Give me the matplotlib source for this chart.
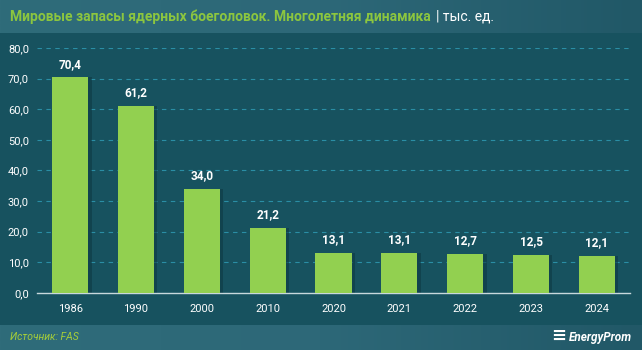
import matplotlib
matplotlib.use("Agg")
import matplotlib.pyplot as plt
import numpy as np
from matplotlib.colors import LinearSegmentedColormap

plt.rcParams['font.family'] = ['Roboto', 'DejaVu Sans']

years = ['1986', '1990', '2000', '2010', '2020', '2021', '2022', '2023', '2024']
stock = [70.4, 61.2, 34.0, 21.2, 13.1, 13.1, 12.7, 12.5, 12.1]
y_ticks = [0, 10, 20, 30, 40, 50, 60, 70, 80]

bg = '#17525f'
bar_color = '#92d050'
green_text = '#8cc63f'

fig = plt.figure(figsize=(6.42, 3.5), dpi=100)
fig.patch.set_facecolor(bg)

# gradient bands for header and footer
grad = np.linspace(0, 1, 256).reshape(1, -1)
band_cmap = LinearSegmentedColormap.from_list('band', ['#2f6c7a', '#2d6878', '#215867'])
for y0, h in [(0.906, 0.094), (0.0, 0.071)]:
    bax = fig.add_axes([0, y0, 1, h])
    bax.imshow(grad, aspect='auto', cmap=band_cmap, extent=[0, 1, 0, 1])
    bax.set_axis_off()

ax = fig.add_axes([0.058, 0.163, 0.923, 0.7])
ax.set_facecolor(bg)
x = np.arange(len(years))

# soft shadow to the right of each bar
ax.bar(x + 0.05, stock, width=0.55, color='#0e3a44', alpha=0.6, zorder=2)
ax.bar(x, stock, width=0.55, color=bar_color, zorder=3)

for xi, v in zip(x, stock):
    ax.text(xi, v + 2.2, f"{v:.1f}".replace('.', ','), ha='center', va='bottom',
            color='white', fontsize=8.5, fontweight='bold')

ax.set_ylim(0, 80)
ax.set_xlim(-0.5, len(years) - 0.5)
ax.set_yticks(y_ticks)
ax.set_yticklabels([f"{t:.1f}".replace('.', ',') for t in y_ticks])
ax.set_xticks(x)
ax.set_xticklabels(years)
ax.tick_params(colors='white', labelsize=8, length=0, pad=8)
ax.tick_params(axis='y', pad=6)
ax.yaxis.grid(True, linestyle=(0, (4, 4)), color='#2a8ea5', linewidth=0.8, zorder=0)
ax.set_axisbelow(True)
for side in ['top', 'right', 'left']:
    ax.spines[side].set_visible(False)
ax.spines['bottom'].set_color('#c8d8dc')
ax.spines['bottom'].set_linewidth(1)

title = fig.text(0.016, 0.953, "Мировые запасы ядерных боеголовок. Многолетняя динамика",
                 color=green_text, fontsize=10, fontweight='bold', va='center')
fig.canvas.draw()
bb = title.get_window_extent().transformed(fig.transFigure.inverted())
fig.text(bb.x1 + 0.008, 0.953, "| тыс. ед.", color='white', fontsize=10, va='center')

fig.text(0.016, 0.036, "Источник: FAS", color='#a6ce39', fontsize=7.5,
         style='italic', va='center')
logo = fig.text(0.985, 0.036, "EnergyProm", color='white', fontsize=8.5, fontweight='bold',
                style='italic', ha='right', va='center')
fig.canvas.draw()
lb = logo.get_window_extent().transformed(fig.transFigure.inverted())
fig.text(lb.x0 - 0.004, 0.040, "≡", color='white', fontsize=13, fontweight='bold',
         ha='right', va='center')

fig.savefig('out.png', dpi=100, facecolor=fig.get_facecolor())
